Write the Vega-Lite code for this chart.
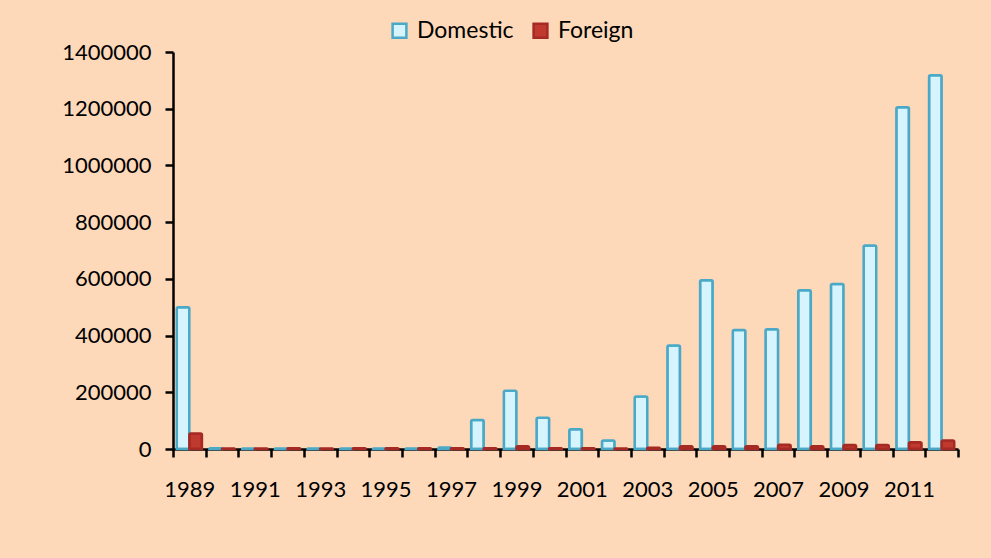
{
  "$schema": "https://vega.github.io/schema/vega-lite/v6.json",
  "width": 785,
  "height": 397,
  "autosize": {"type": "none"},
  "padding": {"left": 173, "top": 52, "right": 33, "bottom": 109},
  "background": "#fdd8b9",
  "config": {
    "view": {"stroke": null},
    "font": "Lato",
    "axis": {"labelFont": "Lato", "labelFontSize": 22, "labelColor": "#000000", "domainColor": "#000000", "domainWidth": 2.5, "tickColor": "#000000", "tickWidth": 2.5, "grid": false, "title": null}
  },
  "data": {
    "values": [
      {"year": "1989", "series": "Domestic", "value": 500000},
      {"year": "1990", "series": "Domestic", "value": 2500},
      {"year": "1991", "series": "Domestic", "value": 2000},
      {"year": "1992", "series": "Domestic", "value": 2000},
      {"year": "1993", "series": "Domestic", "value": 2000},
      {"year": "1994", "series": "Domestic", "value": 2000},
      {"year": "1995", "series": "Domestic", "value": 2000},
      {"year": "1996", "series": "Domestic", "value": 2000},
      {"year": "1997", "series": "Domestic", "value": 5000},
      {"year": "1998", "series": "Domestic", "value": 102000},
      {"year": "1999", "series": "Domestic", "value": 205000},
      {"year": "2000", "series": "Domestic", "value": 110000},
      {"year": "2001", "series": "Domestic", "value": 70000},
      {"year": "2002", "series": "Domestic", "value": 30000},
      {"year": "2003", "series": "Domestic", "value": 185000},
      {"year": "2004", "series": "Domestic", "value": 365000},
      {"year": "2005", "series": "Domestic", "value": 595000},
      {"year": "2006", "series": "Domestic", "value": 420000},
      {"year": "2007", "series": "Domestic", "value": 422000},
      {"year": "2008", "series": "Domestic", "value": 560000},
      {"year": "2009", "series": "Domestic", "value": 582000},
      {"year": "2010", "series": "Domestic", "value": 718000},
      {"year": "2011", "series": "Domestic", "value": 1205000},
      {"year": "2012", "series": "Domestic", "value": 1318000},
      {"year": "1989", "series": "Foreign", "value": 55000},
      {"year": "1990", "series": "Foreign", "value": 2000},
      {"year": "1991", "series": "Foreign", "value": 2000},
      {"year": "1992", "series": "Foreign", "value": 3000},
      {"year": "1993", "series": "Foreign", "value": 2000},
      {"year": "1994", "series": "Foreign", "value": 3000},
      {"year": "1995", "series": "Foreign", "value": 3000},
      {"year": "1996", "series": "Foreign", "value": 3000},
      {"year": "1997", "series": "Foreign", "value": 3000},
      {"year": "1998", "series": "Foreign", "value": 3000},
      {"year": "1999", "series": "Foreign", "value": 10000},
      {"year": "2000", "series": "Foreign", "value": 3000},
      {"year": "2001", "series": "Foreign", "value": 3000},
      {"year": "2002", "series": "Foreign", "value": 2000},
      {"year": "2003", "series": "Foreign", "value": 4000},
      {"year": "2004", "series": "Foreign", "value": 10000},
      {"year": "2005", "series": "Foreign", "value": 10000},
      {"year": "2006", "series": "Foreign", "value": 10000},
      {"year": "2007", "series": "Foreign", "value": 15000},
      {"year": "2008", "series": "Foreign", "value": 10000},
      {"year": "2009", "series": "Foreign", "value": 14000},
      {"year": "2010", "series": "Foreign", "value": 14000},
      {"year": "2011", "series": "Foreign", "value": 24000},
      {"year": "2012", "series": "Foreign", "value": 30000}
    ]
  },
  "mark": {"type": "bar", "strokeWidth": 2.5, "cornerRadiusTopLeft": 1.5, "cornerRadiusTopRight": 1.5},
  "encoding": {
    "x": {
      "field": "year", "type": "nominal",
      "scale": {"paddingInner": 0, "paddingOuter": 0},
      "axis": {"labelAngle": 0, "tickBand": "extent", "tickSize": 8, "labelPadding": 22,
               "labelExpr": "(toNumber(datum.value) - 1989) % 2 == 0 ? datum.value : ''"}
    },
    "xOffset": {"field": "series", "type": "nominal", "scale": {"paddingOuter": 0.3, "paddingInner": 0}},
    "y": {
      "field": "value", "type": "quantitative",
      "scale": {"domain": [0, 1400000]},
      "axis": {"values": [0, 200000, 400000, 600000, 800000, 1000000, 1200000, 1400000], "format": "d", "tickSize": 8, "labelPadding": 14}
    },
    "color": {
      "field": "series", "type": "nominal",
      "scale": {"domain": ["Domestic", "Foreign"], "range": ["#d6f4fd", "#c0392f"]},
      "legend": {"orient": "none", "legendX": 215, "legendY": -33, "direction": "horizontal", "title": null,
                 "symbolType": "square", "symbolSize": 190, "labelFontSize": 23, "labelFont": "Lato", "labelColor": "#000000", "columnPadding": 14, "labelOffset": 6, "symbolStrokeWidth": 2.5}
    },
    "stroke": {
      "field": "series", "type": "nominal",
      "scale": {"domain": ["Domestic", "Foreign"], "range": ["#4ba9c8", "#a52a24"]},
      "legend": null
    }
  }
}
